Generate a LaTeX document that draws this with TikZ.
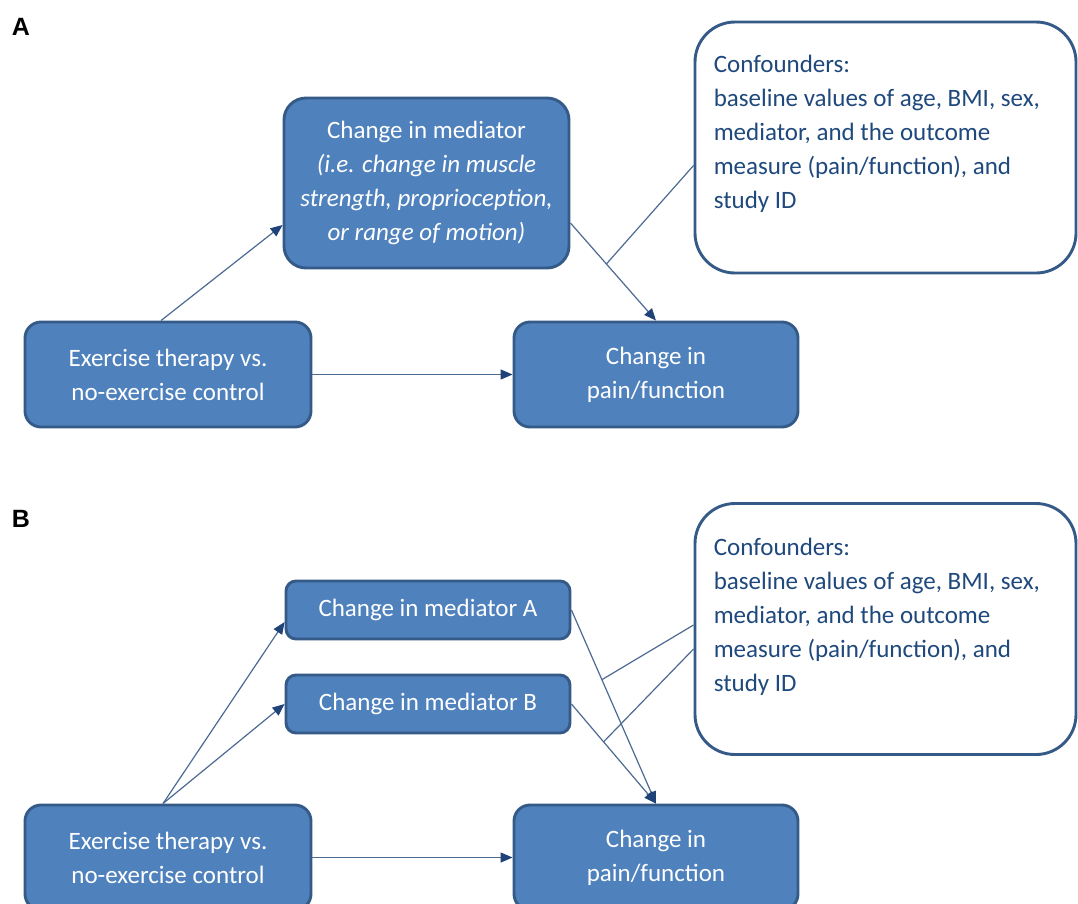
\documentclass[tikz,border=0pt]{standalone}
\usepackage{fontspec}
\setmainfont{Carlito}
\newfontfamily\panelfont{Liberation Sans}
\usepackage{xcolor}
\usetikzlibrary{arrows.meta}
\definecolor{boxfill}{HTML}{4F81BD}
\definecolor{boxedge}{HTML}{355A87}
\definecolor{conftxt}{HTML}{1F497D}
\definecolor{linkcol}{HTML}{4C6A92}
\definecolor{tipcol}{HTML}{1F4279}
\newcommand{\diagfont}{\fontsize{25}{34}\selectfont}

\begin{document}
\begin{tikzpicture}[x=1pt,y=-1pt,
    bluebox/.style={draw=boxedge,fill=boxfill,line width=2.9pt,text=white,align=center,font=\diagfont,inner sep=0pt},
    confbox/.style={draw=boxedge,fill=white,line width=2.9pt,rounded corners=40pt,inner sep=0pt,minimum width=381pt,minimum height=251pt},
    conftext/.style={text=conftxt,align=left,font=\diagfont,inner sep=0pt,anchor=north west},
    panellabel/.style={font=\panelfont\fontsize{25}{28}\selectfont\bfseries,inner sep=0pt},
    link/.style={draw=linkcol,line width=1.2pt},
    arr/.style={link,-{Triangle[length=12pt,width=10pt,color=tipcol]}}]
    \useasboundingbox (0,0) rectangle (1078,903);
    \clip (0,0) rectangle (1078,903);
    \fill[white] (0,0) rectangle (1078,903);

    \node[panellabel] (labA) at (21,27) {A};
    \node[bluebox,rounded corners=22pt,minimum width=285pt,minimum height=170pt] (med) at (426.5,183) {Change in mediator\\\textit{(i.e. change in muscle}\\\textit{strength, proprioception,}\\\textit{or range of motion)}};
    \node[bluebox,rounded corners=16pt,minimum width=286pt,minimum height=105pt] (exer) at (168,374.5) {Exercise therapy vs.\\no-exercise control};
    \node[bluebox,rounded corners=16pt,minimum width=284pt,minimum height=105pt] (outc) at (656,374.5) {Change in\\pain/function};
    \node[confbox] (confA) at (885.5,147.5) {};
    \node[conftext] (confAtxt) at ([xshift=20pt,yshift=-34pt]confA.north west) {Confounders:\\baseline values of age, BMI, sex,\\mediator, and the outcome\\measure (pain/function), and\\study ID};
    \draw[arr] ([xshift=-7pt]exer.north) -- ([yshift=-42pt]med.west);
    \draw[arr] ([yshift=-40pt]med.east) -- coordinate[pos=0.42] (jA) (outc.north);
    \draw[arr] (exer.east) -- (outc.west);
    \draw[link] ([yshift=-18pt]confA.west) -- (jA);

    \node[panellabel] (labB) at (21,519) {B};
    \node[bluebox,rounded corners=10pt,minimum width=284pt,minimum height=58pt] (medA) at (428,610) {Change in mediator A};
    \node[bluebox,rounded corners=10pt,minimum width=284pt,minimum height=58pt] (medB) at (428,704) {Change in mediator B};
    \node[bluebox,rounded corners=16pt,minimum width=286pt,minimum height=105pt] (exerB) at (168,857.5) {Exercise therapy vs.\\no-exercise control};
    \node[bluebox,rounded corners=16pt,minimum width=284pt,minimum height=105pt] (outcB) at (656,857.5) {Change in\\pain/function};
    \node[confbox] (confB) at (885.5,629) {};
    \node[conftext] (confBtxt) at ([xshift=20pt,yshift=-36pt]confB.north west) {Confounders:\\baseline values of age, BMI, sex,\\mediator, and the outcome\\measure (pain/function), and\\study ID};
    \draw[arr] ([xshift=-5pt]exerB.north) -- ([yshift=-12pt]medA.west);
    \draw[arr] ([xshift=-5pt]exerB.north) -- (medB.west);
    \draw[arr] (medA.east) -- coordinate[pos=0.36] (jB1) (outcB.north);
    \draw[arr] (medB.east) -- coordinate[pos=0.38] (jB2) (outcB.north);
    \draw[arr] (exerB.east) -- (outcB.west);
    \draw[link] ([yshift=4pt]confB.west) -- (jB1);
    \draw[link] ([yshift=-20pt]confB.west) -- (jB2);
  \end{tikzpicture}
\end{document}
